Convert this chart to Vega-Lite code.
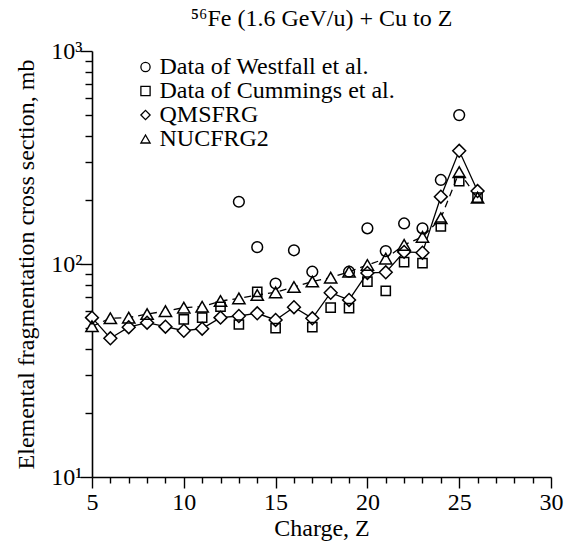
{
"$schema": "https://vega.github.io/schema/vega-lite/v6.json",
"width": 459, "height": 426,
"autosize": {"type": "none"},
"padding": {"left": 92, "top": 51, "right": 13, "bottom": 69},
"background": "white",
"config": {
  "view": {"stroke": null},
  "font": "Liberation Serif",
  "axis": {"domainColor": "black", "domainWidth": 1.6, "tickColor": "black", "tickWidth": 1.4, "labelColor": "black", "titleColor": "black", "titleFontWeight": "normal", "grid": false, "labelFont": "Liberation Serif", "titleFont": "Liberation Serif"}
},
"title": {"text": "⁵⁶Fe (1.6 GeV/u) + Cu to Z", "fontSize": 24, "fontWeight": "normal", "font": "Liberation Serif", "color": "black", "anchor": "middle", "offset": 8},
"data": {"values": [
{"series":"Data of Westfall et al.","z":13,"v":196},
{"series":"Data of Westfall et al.","z":14,"v":120},
{"series":"Data of Westfall et al.","z":15,"v":81},
{"series":"Data of Westfall et al.","z":16,"v":116},
{"series":"Data of Westfall et al.","z":17,"v":92},
{"series":"Data of Westfall et al.","z":19,"v":92},
{"series":"Data of Westfall et al.","z":20,"v":147},
{"series":"Data of Westfall et al.","z":21,"v":115},
{"series":"Data of Westfall et al.","z":22,"v":155},
{"series":"Data of Westfall et al.","z":23,"v":147},
{"series":"Data of Westfall et al.","z":24,"v":248},
{"series":"Data of Westfall et al.","z":25,"v":500},
{"series":"Data of Cummings et al.","z":10,"v":55},
{"series":"Data of Cummings et al.","z":11,"v":56},
{"series":"Data of Cummings et al.","z":12,"v":63},
{"series":"Data of Cummings et al.","z":13,"v":52},
{"series":"Data of Cummings et al.","z":14,"v":74},
{"series":"Data of Cummings et al.","z":15,"v":50},
{"series":"Data of Cummings et al.","z":17,"v":50.5},
{"series":"Data of Cummings et al.","z":18,"v":62.4},
{"series":"Data of Cummings et al.","z":19,"v":62},
{"series":"Data of Cummings et al.","z":20,"v":82.7},
{"series":"Data of Cummings et al.","z":21,"v":74.7},
{"series":"Data of Cummings et al.","z":22,"v":102},
{"series":"Data of Cummings et al.","z":23,"v":101},
{"series":"Data of Cummings et al.","z":24,"v":150},
{"series":"Data of Cummings et al.","z":25,"v":245},
{"series":"Data of Cummings et al.","z":26,"v":205},
{"series":"QMSFRG","z":5,"v":56},
{"series":"QMSFRG","z":6,"v":44.8},
{"series":"QMSFRG","z":7,"v":50.5},
{"series":"QMSFRG","z":8,"v":53},
{"series":"QMSFRG","z":9,"v":50.8},
{"series":"QMSFRG","z":10,"v":48.6},
{"series":"QMSFRG","z":11,"v":49.7},
{"series":"QMSFRG","z":12,"v":56},
{"series":"QMSFRG","z":13,"v":57},
{"series":"QMSFRG","z":14,"v":58.7},
{"series":"QMSFRG","z":15,"v":54.6},
{"series":"QMSFRG","z":16,"v":62.7},
{"series":"QMSFRG","z":17,"v":55.6},
{"series":"QMSFRG","z":18,"v":73.3},
{"series":"QMSFRG","z":19,"v":67.8},
{"series":"QMSFRG","z":20,"v":90.8},
{"series":"QMSFRG","z":21,"v":91.4},
{"series":"QMSFRG","z":22,"v":114},
{"series":"QMSFRG","z":23,"v":113},
{"series":"QMSFRG","z":24,"v":207},
{"series":"QMSFRG","z":25,"v":340},
{"series":"QMSFRG","z":26,"v":220},
{"series":"NUCFRG2","z":5,"v":51},
{"series":"NUCFRG2","z":6,"v":55.6},
{"series":"NUCFRG2","z":7,"v":56},
{"series":"NUCFRG2","z":8,"v":58.2},
{"series":"NUCFRG2","z":9,"v":60.1},
{"series":"NUCFRG2","z":10,"v":62.4},
{"series":"NUCFRG2","z":11,"v":63},
{"series":"NUCFRG2","z":12,"v":67},
{"series":"NUCFRG2","z":13,"v":69},
{"series":"NUCFRG2","z":14,"v":71.5},
{"series":"NUCFRG2","z":15,"v":73.6},
{"series":"NUCFRG2","z":16,"v":78},
{"series":"NUCFRG2","z":17,"v":82.7},
{"series":"NUCFRG2","z":18,"v":86.3},
{"series":"NUCFRG2","z":19,"v":92},
{"series":"NUCFRG2","z":20,"v":99},
{"series":"NUCFRG2","z":21,"v":106},
{"series":"NUCFRG2","z":22,"v":123},
{"series":"NUCFRG2","z":23,"v":134},
{"series":"NUCFRG2","z":24,"v":164},
{"series":"NUCFRG2","z":25,"v":270},
{"series":"NUCFRG2","z":26,"v":205}
]},
"encoding": {
  "x": {"field": "z", "type": "quantitative", "scale": {"domain": [5, 30], "nice": false, "zero": false},
        "axis": {"orient": "bottom", "values": [5,6,7,8,9,10,11,12,13,14,15,16,17,18,19,20,21,22,23,24,25,26,27,28,29,30],
                 "ticks": true, "tickSize": {"condition": {"test": "datum.value % 5 === 0", "value": 11}, "value": 6},
                 "labelExpr": "datum.value % 5 === 0 ? datum.label : ''",
                 "labelFontSize": 24, "labelPadding": 2, "labelFlush": false, "labelOverlap": false, "labelBound": false,
                 "title": "Charge, Z", "titleFontSize": 24, "titlePadding": 2}},
  "y": {"field": "v", "type": "quantitative", "scale": {"type": "log", "domain": [10, 1000], "nice": false},
        "axis": {"orient": "left", "values": [10,20,30,40,50,60,70,80,90,100,200,300,400,500,600,700,800,900,1000],
                 "ticks": true, "tickSize": {"condition": {"test": "datum.value === 10 || datum.value === 100 || datum.value === 1000", "value": 12}, "value": 7},
                 "labelExpr": "datum.value === 10 ? '10¹' : datum.value === 100 ? '10²' : datum.value === 1000 ? '10³' : ''",
                 "labelFontSize": 24, "labelPadding": -2, "labelOverlap": false,
                 "title": "Elemental fragmentation cross section, mb", "titleFontSize": 24, "titlePadding": 12}}
},
"layer": [
{
  "transform": [{"filter": "datum.series === 'QMSFRG'"}],
  "mark": {"type": "line", "color": "black", "strokeWidth": 1.3}
},
{
  "transform": [{"filter": "datum.series === 'NUCFRG2'"}],
  "mark": {"type": "line", "color": "black", "strokeWidth": 1.3, "strokeDash": [7, 5]}
},
{
  "transform": [{"filter": "datum.series === 'NUCFRG2'"}],
  "mark": {"type": "point", "shape": "triangle-up", "filled": true, "fill": "white", "strokeWidth": 0, "opacity": 1, "size": 150}
},
{
  "transform": [{"filter": "datum.series === 'QMSFRG'"}],
  "mark": {"type": "point", "shape": "diamond", "filled": true, "fill": "white", "strokeWidth": 0, "opacity": 1, "size": 165}
},
{
  "transform": [{"filter": "datum.series === 'NUCFRG2'"}],
  "mark": {"type": "point", "filled": false, "stroke": "black", "strokeWidth": 1.5, "opacity": 1, "size": 150},
  "encoding": {
    "shape": {"field": "series", "type": "nominal", "scale": {"domain": ["Data of Westfall et al.", "Data of Cummings et al.", "QMSFRG", "NUCFRG2"], "range": ["circle", "square", "diamond", "triangle-up"]},
              "legend": {"title": null, "orient": "none", "legendX": 41.5, "legendY": 4, "labelFontSize": 24, "labelFont": "Liberation Serif", "labelColor": "black", "labelLimit": 0, "symbolSize": 85, "symbolStrokeColor": "black", "symbolStrokeWidth": 1.3, "labelOffset": 2, "rowPadding": -1}}
  }
},
{
  "transform": [{"filter": "datum.series === 'QMSFRG'"}],
  "mark": {"type": "point", "filled": false, "stroke": "black", "strokeWidth": 1.5, "opacity": 1, "size": 165},
  "encoding": {"shape": {"field": "series", "type": "nominal"}}
},
{
  "transform": [{"filter": "datum.series === 'Data of Cummings et al.'"}],
  "mark": {"type": "point", "filled": false, "stroke": "black", "strokeWidth": 1.5, "opacity": 1, "size": 85},
  "encoding": {"shape": {"field": "series", "type": "nominal"}}
},
{
  "transform": [{"filter": "datum.series === 'Data of Westfall et al.'"}],
  "mark": {"type": "point", "filled": false, "stroke": "black", "strokeWidth": 1.5, "opacity": 1, "size": 115},
  "encoding": {"shape": {"field": "series", "type": "nominal"}}
}
]
}
